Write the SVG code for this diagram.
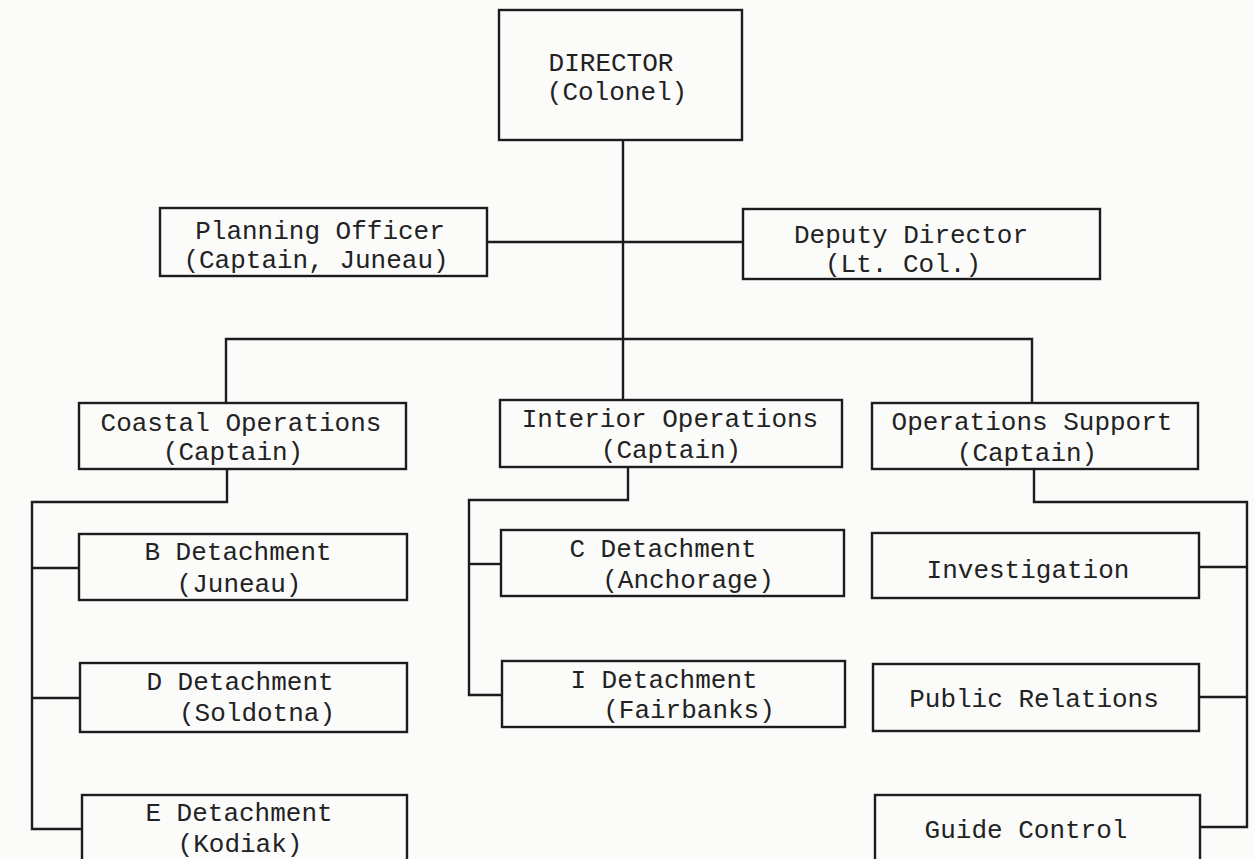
<svg xmlns="http://www.w3.org/2000/svg" width="1255" height="859" viewBox="0 0 1255 859">
<style>
.box{fill:none;stroke:#1c1c1c;stroke-width:2.4}
.ln{fill:none;stroke:#1c1c1c;stroke-width:2.4;stroke-linejoin:miter}
text{font-family:"Liberation Mono","Courier New",monospace;font-size:26px;fill:#222;text-anchor:middle}
</style>
<rect x="0" y="0" width="1255" height="859" fill="#fbfbfa"/>
<g id="connectors">
<path class="ln" d="M623 140 V400"/>
<path class="ln" d="M487 242 H743"/>
<path class="ln" d="M226 403 V339 H1032 V403"/>
<path class="ln" d="M227 469 V502 H32 V829 H82"/>
<path class="ln" d="M32 568 H79"/>
<path class="ln" d="M32 698 H80"/>
<path class="ln" d="M628 467 V500 H469 V695 H502"/>
<path class="ln" d="M469 564 H501"/>
<path class="ln" d="M1034 469 V502 H1247 V827 H1200"/>
<path class="ln" d="M1199 567 H1247"/>
<path class="ln" d="M1199 697 H1247"/>
</g>
<g id="director">
<rect class="box" x="499" y="10" width="243" height="130"/>
<text x="611" y="71">DIRECTOR</text>
<text x="617" y="100">(Colonel)</text>
</g>
<g id="planning">
<rect class="box" x="160" y="208" width="327" height="68"/>
<text x="320" y="239">Planning Officer</text>
<text x="316" y="268">(Captain, Juneau)</text>
</g>
<g id="deputy">
<rect class="box" x="743" y="209" width="357" height="70"/>
<text x="911" y="243">Deputy Director</text>
<text x="903" y="272">(Lt. Col.)</text>
</g>
<g id="coastal">
<rect class="box" x="79" y="403" width="327" height="66"/>
<text x="241" y="431">Coastal Operations</text>
<text x="233" y="460">(Captain)</text>
</g>
<g id="interior">
<rect class="box" x="500" y="400" width="342" height="67"/>
<text x="670" y="427">Interior Operations</text>
<text x="671" y="458">(Captain)</text>
</g>
<g id="support">
<rect class="box" x="872" y="403" width="326" height="66"/>
<text x="1032" y="430">Operations Support</text>
<text x="1027" y="461">(Captain)</text>
</g>
<g id="b-det">
<rect class="box" x="79" y="534" width="328" height="66"/>
<text x="238" y="560">B Detachment</text>
<text x="239" y="592">(Juneau)</text>
</g>
<g id="d-det">
<rect class="box" x="80" y="663" width="327" height="69"/>
<text x="240" y="690">D Detachment</text>
<text x="257" y="721">(Soldotna)</text>
</g>
<g id="e-det">
<rect class="box" x="82" y="795" width="325" height="80"/>
<text x="239" y="821">E Detachment</text>
<text x="240" y="852">(Kodiak)</text>
</g>
<g id="c-det">
<rect class="box" x="501" y="530" width="343" height="66"/>
<text x="663" y="557">C Detachment</text>
<text x="688" y="588">(Anchorage)</text>
</g>
<g id="i-det">
<rect class="box" x="502" y="661" width="343" height="66"/>
<text x="664" y="688">I Detachment</text>
<text x="689" y="718">(Fairbanks)</text>
</g>
<g id="investigation">
<rect class="box" x="872" y="533" width="327" height="65"/>
<text x="1028" y="578">Investigation</text>
</g>
<g id="public-relations">
<rect class="box" x="873" y="664" width="326" height="67"/>
<text x="1034" y="707">Public Relations</text>
</g>
<g id="guide-control">
<rect class="box" x="875" y="795" width="325" height="80"/>
<text x="1026" y="838">Guide Control</text>
</g>
</svg>
